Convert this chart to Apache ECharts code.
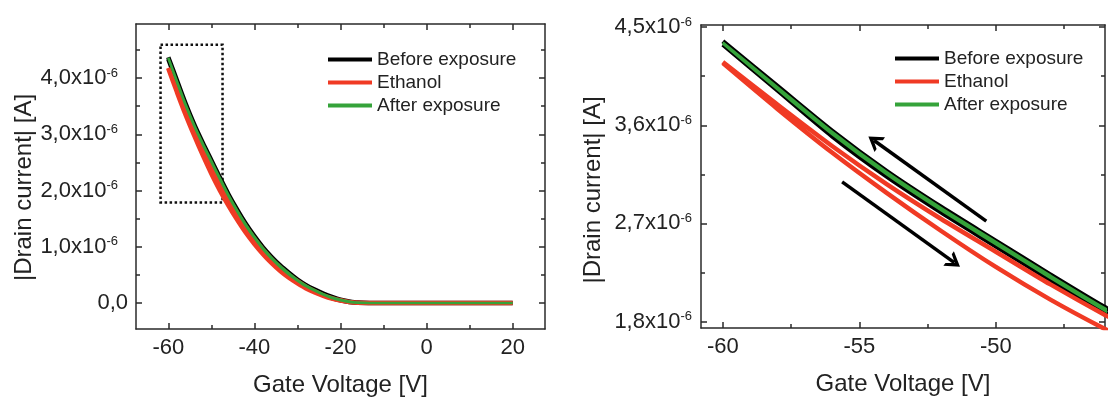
<!DOCTYPE html>
<html>
<head>
<meta charset="utf-8">
<script src="https://cdn.jsdelivr.net/npm/echarts@6/dist/echarts.min.js"></script>
<style>
html,body{margin:0;padding:0;background:#fff;}
#chart{width:1109px;height:400px;}
</style>
</head>
<body>
<div id="chart"></div>
<script>
// Gate voltage [V] (sweep points)
const gateVoltage = [-60,-58,-56,-54,-52,-50,-48,-46,-44,-42,-40,-38,-36,-34,-32,-30,-28,-26,-24,-22,-20,-18,-16,-10,0,10,20];
// |Drain current| in units of 1e-6 A, forward sweep (-60 -> 20) and reverse sweep (20 -> -60), listed at gateVoltage
const beforeFwd  = [4.34,3.92,3.50,3.13,2.80,2.49,2.18,1.88,1.61,1.37,1.15,0.95,0.78,0.63,0.50,0.39,0.29,0.21,0.14,0.09,0.05,0.02,0.005,0,0,0,0];
const beforeRev  = [4.37,3.96,3.55,3.18,2.85,2.54,2.23,1.93,1.66,1.41,1.19,0.99,0.82,0.67,0.54,0.42,0.32,0.24,0.17,0.11,0.06,0.03,0.01,0,0,0,0];
const ethanolFwd = [4.17,3.75,3.35,2.98,2.63,2.30,2.00,1.73,1.48,1.25,1.05,0.87,0.71,0.57,0.45,0.35,0.26,0.19,0.13,0.08,0.045,0.02,0.005,0,0,0,0];
const ethanolRev = [4.18,3.79,3.41,3.06,2.74,2.44,2.14,1.86,1.60,1.36,1.14,0.95,0.78,0.63,0.50,0.39,0.29,0.21,0.14,0.09,0.05,0.02,0.005,0,0,0,0];
const afterFwd   = [4.35,3.93,3.52,3.15,2.82,2.51,2.20,1.90,1.63,1.38,1.16,0.96,0.79,0.64,0.51,0.40,0.30,0.22,0.15,0.09,0.05,0.02,0.005,0,0,0,0];
const afterRev   = [4.36,3.95,3.54,3.17,2.84,2.53,2.22,1.92,1.65,1.40,1.18,0.98,0.81,0.66,0.53,0.41,0.31,0.23,0.16,0.10,0.06,0.03,0.01,0,0,0,0];

const seriesNames = ['Before exposure','Ethanol','After exposure'];

// tick values
const leftXMajor = [-60,-40,-20,0,20];
const leftXMinor = [-50,-30,-10,10];
const leftYMajor = [0,1,2,3,4];
const leftYMinor = [0.5,1.5,2.5,3.5,4.5];
const rightXMajor = [-60,-55,-50];
const rightXMinor = [-57.5,-52.5,-47.5];
const rightYMajor = [1.8,2.7,3.6,4.5];
const rightYMinor = [2.25,3.15,4.05];

// zoom box (left panel) and sweep-direction arrows (right panel), in data units
const zoomBox = [[-61.8,4.59],[-47.4,1.79]];
const arrowBack = [[-50.35,2.72],[-54.46,3.46]];
const arrowFwd  = [[-55.63,3.08],[-51.52,2.34]];

const FONT = "'Liberation Sans', Arial, sans-serif";
const TXT = '#222';
const AX = '#2a2a2a';

function loop(fwd, rev){
  const pts = gateVoltage.map((v,i)=>[v,fwd[i]]);
  for(let i=gateVoltage.length-1;i>=0;i--) pts.push([gateVoltage[i],rev[i]]);
  return pts;
}

function yFmt(v){
  if (Math.abs(v) < 1e-9) return '{b|0,0}';
  return '{b|' + v.toFixed(1).replace('.', ',') + 'x10}{s|-6}';
}

function axesFor(g, c){
  const lineStyle = {color: AX, width: 1.5};
  const xs = [
    {type:'value', gridIndex:g, position:'bottom', min:c.xmin, max:c.xmax,
     axisLine:{show:true, onZero:false, lineStyle},
     axisTick:{show:true, inside:true, length:6, customValues:c.xMajor, lineStyle},
     axisLabel:{show:true, customValues:c.xMajor, margin:8, fontSize:22, fontFamily:FONT, color:TXT},
     splitLine:{show:false},
     name:'Gate Voltage [V]', nameLocation:'middle', nameGap:44,
     nameTextStyle:{fontSize:24, fontFamily:FONT, color:TXT}},
    {type:'value', gridIndex:g, position:'bottom', min:c.xmin, max:c.xmax,
     axisLine:{show:false, onZero:false}, axisTick:{show:true, inside:true, length:4, customValues:c.xMinor, lineStyle},
     axisLabel:{show:false}, splitLine:{show:false}},
    {type:'value', gridIndex:g, position:'top', min:c.xmin, max:c.xmax,
     axisLine:{show:true, onZero:false, lineStyle},
     axisTick:{show:true, inside:true, length:6, customValues:c.xMajor, lineStyle},
     axisLabel:{show:false}, splitLine:{show:false}},
    {type:'value', gridIndex:g, position:'top', min:c.xmin, max:c.xmax,
     axisLine:{show:false, onZero:false}, axisTick:{show:true, inside:true, length:4, customValues:c.xMinor, lineStyle},
     axisLabel:{show:false}, splitLine:{show:false}}
  ];
  const ys = [
    {type:'value', gridIndex:g, position:'left', min:c.ymin, max:c.ymax,
     axisLine:{show:true, onZero:false, lineStyle},
     axisTick:{show:true, inside:true, length:6, customValues:c.yMajor, lineStyle},
     axisLabel:{show:true, customValues:c.yMajor, margin:c.ymargin, formatter:yFmt,
       rich:{b:{fontSize:22, fontFamily:FONT, color:TXT},
             s:{fontSize:13, fontFamily:FONT, color:TXT, padding:[0,c.supPad,10,0]}}},
     splitLine:{show:false},
     name:'|Drain current| [A]', nameLocation:'middle', nameGap:c.nameGapY,
     nameTextStyle:{fontSize:24, fontFamily:FONT, color:TXT, padding:[0,c.namePad,0,0]}},
    {type:'value', gridIndex:g, position:'left', min:c.ymin, max:c.ymax,
     axisLine:{show:false, onZero:false}, axisTick:{show:true, inside:true, length:4, customValues:c.yMinor, lineStyle},
     axisLabel:{show:false}, splitLine:{show:false}},
    {type:'value', gridIndex:g, position:'right', min:c.ymin, max:c.ymax,
     axisLine:{show:true, onZero:false, lineStyle},
     axisTick:{show:true, inside:true, length:6, customValues:c.yMajor, lineStyle},
     axisLabel:{show:false}, splitLine:{show:false}},
    {type:'value', gridIndex:g, position:'right', min:c.ymin, max:c.ymax,
     axisLine:{show:false, onZero:false}, axisTick:{show:true, inside:true, length:4, customValues:c.yMinor, lineStyle},
     axisLabel:{show:false}, splitLine:{show:false}}
  ];
  return {xs, ys};
}

const A0 = axesFor(0, {xmin:-67.5, xmax:27.5, ymin:-0.46, ymax:4.96,
  xMajor:leftXMajor, xMinor:leftXMinor, yMajor:leftYMajor, yMinor:leftYMinor,
  ymargin:8, supPad:10, nameGapY:98, namePad:22});
const A1 = axesFor(1, {xmin:-60.8, xmax:-46, ymin:1.74, ymax:4.52,
  xMajor:rightXMajor, xMinor:rightXMinor, yMajor:rightYMajor, yMinor:rightYMinor,
  ymargin:9, supPad:0, nameGapY:96, namePad:27});

const xAxes = A0.xs.concat(A1.xs);
const yAxes = A0.ys.concat(A1.ys);

const colors = {'Before exposure':'#000000', 'Ethanol':'#f03a24', 'After exposure':'#35a33a'};
const widths = {'Before exposure':4.5, 'Ethanol':4.5, 'After exposure':2.5};
const dataByName = {
  'Before exposure': loop(beforeFwd, beforeRev),
  'Ethanol': loop(ethanolFwd, ethanolRev),
  'After exposure': loop(afterFwd, afterRev)
};

function makeSeries(panel){
  const xi = panel*4, yi = panel*4;
  return seriesNames.map((n, k) => {
    const s = {
      type:'line', name:n, xAxisIndex:xi, yAxisIndex:yi,
      data:dataByName[n], showSymbol:false, symbol:'none', smooth:0.25, clip:true,
      lineStyle:{color:colors[n], width:widths[n]}, itemStyle:{color:colors[n]},
      z: 2 + k
    };
    if (panel === 0 && k === 0) {
      s.markArea = {silent:true, itemStyle:{color:'rgba(0,0,0,0)', borderColor:'#111', borderWidth:2.5, borderType:'dotted'},
        data:[[{coord:zoomBox[0]},{coord:zoomBox[1]}]]};
    }
    if (panel === 1 && k === 0) {
      s.markLine = {silent:true, symbol:['none','path://M0,12 L10,0 L20,12 L16,12 L10,5.5 L4,12 Z'], symbolSize:[18,14],
        lineStyle:{color:'#000', width:3.5, type:'solid'}, label:{show:false},
        data:[[{coord:arrowBack[0]},{coord:arrowBack[1]}],[{coord:arrowFwd[0]},{coord:arrowFwd[1]}]]};
    }
    return s;
  });
}

function legendFor(left, top){
  return {
    left:left, top:top, orient:'vertical', itemWidth:44, itemHeight:4, itemGap:4,
    icon:'rect', selectedMode:false,
    textStyle:{fontSize:19, lineHeight:19, fontFamily:FONT, color:TXT},
    data:seriesNames.map(n=>({name:n, itemStyle:{color:colors[n]}}))
  };
}

const chart = echarts.init(document.getElementById('chart'), null, {renderer:'canvas'});
chart.setOption({
  animation:false,
  backgroundColor:'#ffffff',
  grid:[
    {left:136, top:24, width:409, height:305, containLabel:false, outerBoundsMode:'none'},
    {left:701, top:25, width:404, height:303, containLabel:false, outerBoundsMode:'none'}
  ],
  xAxis:xAxes,
  yAxis:yAxes,
  legend:[legendFor(323, 45), legendFor(890, 44)],
  series:makeSeries(0).concat(makeSeries(1))
});
</script>
</body>
</html>
